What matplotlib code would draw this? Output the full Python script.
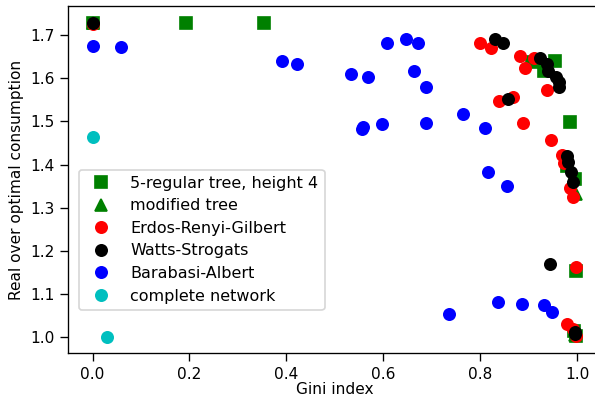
import numpy as np
import matplotlib
matplotlib.use("Agg")
import matplotlib.pyplot as plt

# data: (Gini index, real over optimal consumption)
tree_gini = [0.0, 0.193, 0.354, 0.907, 0.954, 0.931, 0.985, 0.979, 0.996, 0.998, 0.993, 0.997]
tree_cons = [1.728, 1.728, 1.728, 1.638, 1.640, 1.617, 1.498, 1.397, 1.366, 1.154, 1.015, 1.003]

mod_gini = [0.0, 0.998, 0.995]
mod_cons = [1.728, 1.333, 1.005]

erg_gini = [0.0, 0.800, 0.823, 0.881, 0.910, 0.893, 0.938, 0.838, 0.867, 0.888,
            0.945, 0.969, 0.972, 0.986, 0.992, 0.998, 0.978, 0.991, 0.998]
erg_cons = [1.725, 1.681, 1.669, 1.652, 1.648, 1.623, 1.573, 1.548, 1.556, 1.496,
            1.457, 1.423, 1.403, 1.347, 1.324, 1.163, 1.032, 1.019, 1.002]

ws_gini = [0.0, 0.830, 0.846, 0.924, 0.937, 0.940, 0.957, 0.963, 0.963, 0.857,
           0.979, 0.982, 0.988, 0.991, 0.944, 0.996, 0.996]
ws_cons = [1.728, 1.692, 1.681, 1.648, 1.633, 1.617, 1.604, 1.592, 1.579, 1.553,
           1.420, 1.405, 1.383, 1.359, 1.171, 1.013, 1.007]

ba_gini = [0.001, 0.058, 0.391, 0.422, 0.607, 0.646, 0.672, 0.534, 0.569, 0.664,
           0.688, 0.556, 0.558, 0.597, 0.688, 0.765, 0.810, 0.815, 0.855,
           0.735, 0.837, 0.886, 0.932, 0.948]
ba_cons = [1.675, 1.672, 1.640, 1.633, 1.681, 1.691, 1.681, 1.610, 1.602, 1.618,
           1.580, 1.482, 1.488, 1.494, 1.496, 1.517, 1.484, 1.382, 1.351,
           1.055, 1.082, 1.078, 1.075, 1.059]

cn_gini = [0.001, 0.030]
cn_cons = [1.463, 1.0]

plt.rcParams['font.size'] = 9.2

fig = plt.figure(figsize=(595 / 120, 399 / 120), dpi=120)
ax = fig.add_axes([0.1148, 0.1145, 0.896, 0.870])

ms = 6.8
ax.plot(tree_gini, tree_cons, 's', color='g', markersize=ms, label='5-regular tree, height 4')
ax.plot(mod_gini, mod_cons, '^', color='g', markersize=ms, label='modified tree')
ax.plot(erg_gini, erg_cons, 'o', color='r', markersize=ms, label='Erdos-Renyi-Gilbert')
ax.plot(ws_gini, ws_cons, 'o', color='k', markersize=ms, label='Watts-Strogats')
ax.plot(ba_gini, ba_cons, 'o', color='b', markersize=ms, label='Barabasi-Albert')
ax.plot(cn_gini, cn_cons, 'o', color='c', markersize=ms, label='complete network')

ax.set_xlim(-0.05, 1.05)
ax.set_ylim(0.963, 1.767)
ax.set_xticks(np.arange(0, 1.01, 0.2))
ax.set_yticks(np.arange(1.0, 1.71, 0.1))
ax.tick_params(length=5, pad=3)
ax.set_xlabel('Gini index', labelpad=0)
ax.set_ylabel('Real over optimal consumption', labelpad=4)
ax.legend(loc='lower left', bbox_to_anchor=(0.020, 0.125), borderaxespad=0,
          fontsize=9.6, labelspacing=0.47)

fig.savefig('out.png', dpi=120)
